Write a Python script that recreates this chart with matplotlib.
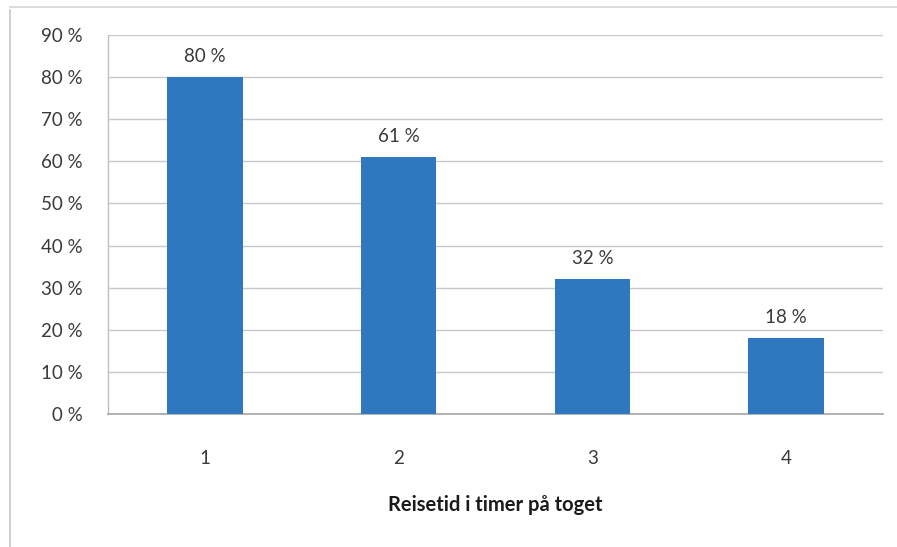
import matplotlib
matplotlib.use("Agg")
import matplotlib.pyplot as plt
from matplotlib.lines import Line2D
from matplotlib.ticker import FuncFormatter

categories = ["1", "2", "3", "4"]
shares = [80, 61, 32, 18]
y_ticks = [0, 10, 20, 30, 40, 50, 60, 70, 80, 90]

plt.rcParams["font.family"] = ["Lato", "DejaVu Sans"]

fig = plt.figure(figsize=(8.97, 5.47), dpi=100)
ax = fig.add_axes([108 / 897, 1 - 414 / 547, (883 - 108) / 897, (414 - 35) / 547])

bar_color = "#2F78BF"
text_color = "#3A3A3A"
x = range(len(categories))
bars = ax.bar(x, shares, width=0.39, color=bar_color, zorder=3)

for xi, v in zip(x, shares):
    ax.annotate(f"{v} %", (xi, v), xytext=(0, 9), textcoords="offset points",
                ha="center", va="bottom", fontsize=13.5, color=text_color)

ax.set_xlim(-0.5, len(categories) - 0.5)
ax.set_ylim(0, 90)
ax.set_yticks(y_ticks)
ax.yaxis.set_major_formatter(FuncFormatter(lambda v, p: f"{int(v)} %"))
ax.set_xticks(list(x))
ax.set_xticklabels(categories)

ax.grid(axis="y", color="#C9C9C9", linewidth=1.0, zorder=0)
ax.tick_params(axis="y", length=0, pad=18, labelsize=13.5, labelcolor=text_color)
ax.tick_params(axis="x", length=0, pad=26, labelsize=13.5, labelcolor=text_color)

for side in ["top", "right"]:
    ax.spines[side].set_visible(False)
ax.spines["left"].set_color("#BFBFBF")
ax.spines["bottom"].set_color("#A6A6A6")
ax.spines["left"].set_linewidth(1.0)
ax.spines["bottom"].set_linewidth(1.2)

ax.set_xlabel("Reisetid i timer på toget", fontsize=14.5, fontweight="bold",
              color="#1a1a1a", labelpad=20)

# outer chart frame
fig.add_artist(Line2D([10 / 897, 10 / 897], [0, 1 - 10 / 547], transform=fig.transFigure,
                      color="#C8C8C8", linewidth=1.2))
fig.add_artist(Line2D([10 / 897, 1], [1 - 7 / 547, 1 - 7 / 547], transform=fig.transFigure,
                      color="#D5D5D5", linewidth=1.2))

fig.savefig("out.png", dpi=100)
